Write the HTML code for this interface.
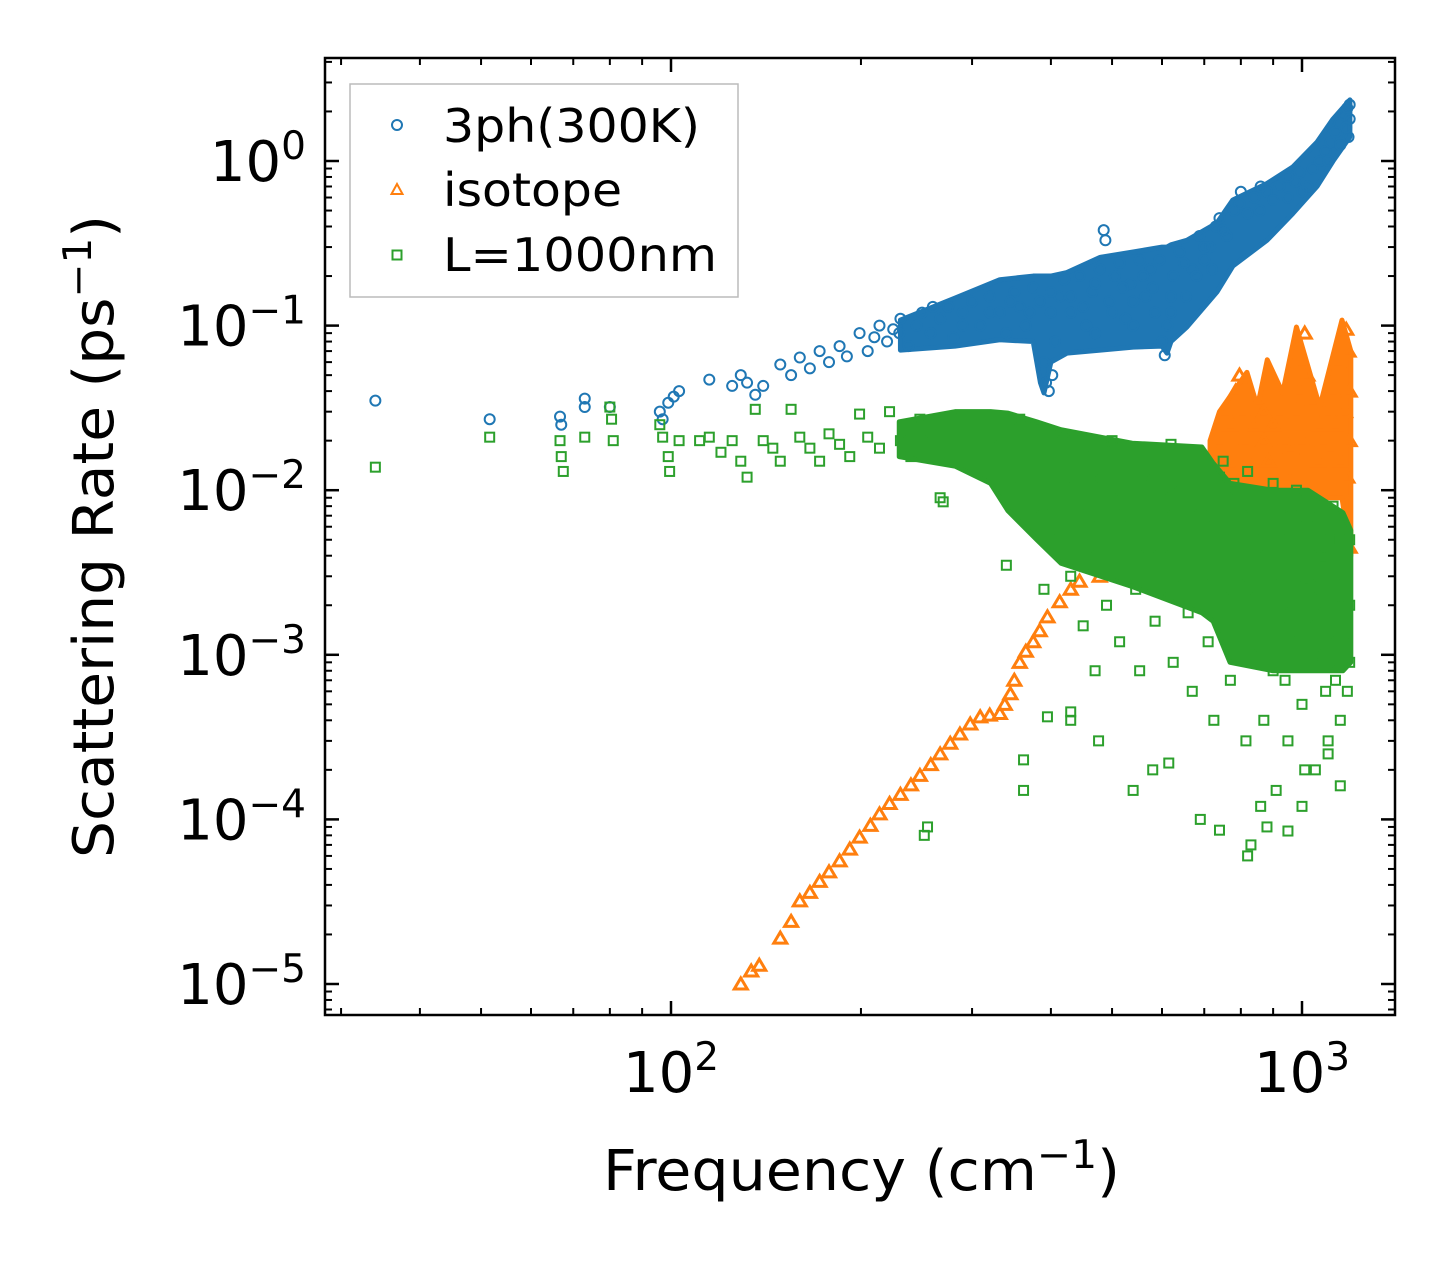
<!DOCTYPE html>
<html><head><meta charset="utf-8"><style>
body{margin:0;background:#fff}
svg{display:block;font-family:"DejaVu Sans","Liberation Sans",sans-serif}
</style></head><body>
<svg id="chart" width="1455" height="1265" viewBox="0 0 1455 1265" xmlns="http://www.w3.org/2000/svg">
<rect width="1455" height="1265" fill="#fff"/>
<g id="marks"></g>
<g id="axes"></g>
<rect x="325" y="58" width="1070" height="957" fill="none" stroke="#000" stroke-width="2.5"/>
<text x="603" y="1190" font-size="56" textLength="517" lengthAdjust="spacingAndGlyphs">Frequency (cm<tspan dy="-22" font-size="39">−1</tspan><tspan dy="22">)</tspan></text>
<text transform="translate(113,858) rotate(-90)" font-size="56" textLength="643" lengthAdjust="spacingAndGlyphs">Scattering Rate (ps<tspan dy="-22" font-size="39">−1</tspan><tspan dy="22">)</tspan></text>
<g>
<rect x="350" y="84" width="388" height="213" fill="#fff" stroke="#bbb" stroke-width="1.5"/>
<circle cx="397" cy="125" r="5" fill="none" stroke="#1f77b4" stroke-width="2"/>
<text x="443" y="142" font-size="46" textLength="257" lengthAdjust="spacingAndGlyphs">3ph(300K)</text>
<polygon points="397,184 402.5,194 391.5,194" fill="none" stroke="#ff7f0e" stroke-width="2"/>
<text x="443" y="206" font-size="46" textLength="179" lengthAdjust="spacingAndGlyphs">isotope</text>
<rect x="392.5" y="250.5" width="9" height="9" fill="none" stroke="#2ca02c" stroke-width="2"/>
<text x="443" y="271" font-size="46" textLength="274" lengthAdjust="spacingAndGlyphs">L=1000nm</text>
</g>
</svg>
<script>
const xTickValues=[100,1000];
const yTickValues=[1,0.1,0.01,0.001,0.0001,0.00001];
const yTickExp=["0","−1","−2","−3","−4","−5"];
const xTickExp=["2","3"];

// dense-cloud envelopes (frequency, lower rate, upper rate)
const blueBandFreq=[231,282,332,375,385,390,400,424,479,540,600,611,620,657,733,777,880,967,1056,1120,1191];
const blueBandLow=[.071,.075,.082,.08,.045,.039,.06,.068,.071,.074,.075,.068,.08,.098,.16,.23,.33,.48,.7,1.0,1.4];
const blueBandHigh=[.108,.147,.19,.2,.2,.2,.2,.21,.26,.28,.3,.3,.31,.33,.42,.58,.73,.92,1.3,1.8,2.35];
const orangeBandFreq=[715,740,818,850,881,932,980,1067,1157,1195];
const orangeBandLow=[.009,.009,.009,.009,.009,.009,.009,.009,.009,.004];
const orangeBandHigh=[.02,.03,.052,.032,.062,.039,.098,.032,.108,.07];
const greenBandFreq=[230,282,321,342,380,415,538,694,723,769,900,1022,1161,1195];
const greenBandLow=[.016,.014,.011,.0075,.005,.0036,.0026,.0018,.0016,.0009,.0008,.0008,.0008,.0009];
const greenBandHigh=[.026,.03,.03,.0294,.026,.0233,.0193,.0183,.0146,.011,.01,.01,.0073,.0057];

const blueFreq=[34,51.6,66.7,67,73,73,80,96,97,99,101,103,115,125,129,132,136,140,149,155,160,166,172,178,185,190,199,205,210,214,220,225,231,238,245,250,258,267,275,280,290,300,309,320,332,340,350,357,365,375,384,390,393,397,402,406,413,420,430,444,455,465,478,485,488,495,505,514,525,535,553,565,575,585,595,600,606,612,625,640,655,670,688,700,715,730,740,760,780,796,820,840,857,880,900,921,950,975,991,1020,1040,1066,1090,1110,1130,1147,1165,1180,1190,1190,1185,1175,230,260,290,320,345,370,400,430,450,470,500,520,540,560,580,620,650,680,700,720,750,800,860,950,1000,1100,1150,400,470,540,620];
const blueRate=[.035,.027,.028,.025,.036,.032,.032,.03,.027,.034,.037,.04,.047,.043,.05,.045,.038,.043,.058,.05,.064,.055,.07,.06,.075,.065,.09,.07,.085,.1,.08,.095,.11,.075,.1,.12,.09,.11,.13,.085,.12,.14,.1,.15,.12,.09,.16,.13,.1,.17,.14,.06,.045,.04,.05,.08,.15,.19,.12,.2,.1,.16,.22,.38,.33,.14,.2,.24,.11,.18,.25,.15,.22,.12,.25,.08,.066,.1,.2,.28,.15,.22,.35,.25,.3,.4,.45,.35,.5,.55,.48,.6,.5,.65,.58,.7,.6,.75,.85,.7,.9,1.0,1.15,1.3,1.5,1.7,1.9,2.1,2.2,1.8,1.4,1.6,.09,.13,.1,.12,.14,.12,.12,.15,.13,.09,.12,.17,.14,.2,.17,.15,.24,.2,.3,.22,.38,.65,.7,.8,.65,1.0,1.25,.16,.18,.1,.12];

const orangeFreq=[129,134,138,149,155,160,166,172,178,185,192,199,207,214,222,231,240,248,258,267,277,287,298,309,320,332,338,345,350,357,365,375,384,395,413,430,444,478,520,640,660,680,700,715,725,740,755,770,785,796,805,815,830,845,857,870,885,900,921,940,960,980,991,1000,1010,1020,1040,1066,1080,1100,1120,1140,1160,1175,1185,1190,1190,1190,1180,1150,1110,1060,950,870,760,1000,1130,1170];
const orangeRate=[1e-5,1.2e-5,1.3e-5,1.9e-5,2.4e-5,3.2e-5,3.6e-5,4.2e-5,4.8e-5,5.6e-5,6.6e-5,7.8e-5,9.2e-5,1.08e-4,1.25e-4,1.42e-4,1.62e-4,1.85e-4,2.15e-4,2.5e-4,2.9e-4,3.3e-4,3.8e-4,4.2e-4,4.3e-4,4.4e-4,5e-4,5.8e-4,7e-4,9e-4,1.05e-3,1.2e-3,1.4e-3,1.7e-3,2.1e-3,2.5e-3,2.8e-3,3e-3,3.3e-3,3.8e-3,5e-3,7e-3,9e-3,.013,.017,.02,.03,.025,.04,.05,.03,.02,.015,.025,.035,.02,.015,.025,.03,.02,.018,.03,.04,.06,.09,.05,.035,.025,.02,.03,.04,.06,.08,.095,.07,.04,.02,.0045,.012,.015,.018,.015,.012,.03,.015,.02,.025,.03];

const greenFreq=[34,51.6,66.7,67,67.5,73,80,80.5,81,96,97,99,99.5,103,111,115,120,125,129,132,136,140,145,149,155,160,166,172,178,185,192,199,205,214,222,231,240,248,258,267,270,277,287,298,309,320,332,340,345,357,365,375,384,390,395,400,405,413,420,430,440,445,450,458,465,470,478,485,490,500,510,514,525,535,545,553,560,575,585,595,605,615,625,640,650,660,670,688,700,710,725,740,750,760,770,785,796,805,815,830,845,857,870,880,890,900,910,921,930,940,950,960,975,991,1000,1010,1020,1035,1050,1066,1080,1090,1100,1110,1125,1140,1150,1160,1170,1180,1190,1190,252,255,362,362,395,430,430,476,540,580,615,690,740,820,830,860,880,950,1000,1050,1100,1150,420,450,480,500,520,550,580,600,620,650,680,700,720,750,780,800,820,850,870,900,930,950,980,1000,1030,1060,1090,1120,1150,1180,1190,1000,950,900,850,800,750,700,650,600,550,1050,1100,1150,1180,1130,1080,1020];
const greenRate=[.0138,.021,.02,.016,.013,.021,.032,.027,.02,.025,.021,.016,.013,.02,.02,.021,.017,.02,.015,.012,.031,.02,.018,.015,.031,.021,.018,.015,.022,.019,.016,.029,.021,.018,.03,.02,.016,.027,.02,.009,.0085,.022,.028,.018,.026,.015,.021,.0035,.012,.027,.018,.007,.024,.0025,.014,.008,.02,.005,.012,.003,.018,.008,.0015,.004,.012,.0008,.006,.018,.002,.01,.0035,.0012,.015,.006,.0025,.0008,.012,.004,.0016,.015,.007,.0025,.0009,.011,.005,.0018,.0006,.008,.003,.0012,.0004,.012,.005,.002,.0007,.009,.003,.0013,.0003,.007,.0025,.001,.0004,.006,.002,.0008,.00015,.005,.0018,.0007,.0003,.008,.003,.0012,.0005,.0002,.006,.0025,.001,.004,.0015,.0006,.00025,.005,.002,.0009,.0004,.003,.0012,.0006,.002,.0009,8e-5,9e-5,1.5e-4,2.3e-4,4.2e-4,4.5e-4,4e-4,3e-4,1.5e-4,2e-4,2.2e-4,1e-4,8.6e-5,6e-5,7e-5,1.2e-4,9e-5,8.5e-5,1.2e-4,2e-4,3e-4,1.6e-4,.02,.016,.013,.02,.008,.018,.013,.009,.019,.013,.016,.01,.007,.015,.011,.007,.013,.009,.005,.011,.007,.004,.01,.007,.003,.007,.004,.008,.005,.004,.005,.0025,.0015,.003,.004,.004,.0025,.006,.003,.004,.0045,.0018,.0012,.0022,.0015,.0007,.0009,.0015];

const X0=671,XD=631,Y0=161,YD=164.6;
function xs(f){return X0+(Math.log10(f)-2)*XD;}
function ys(r){return Y0-Math.log10(r)*YD;}
const NS="http://www.w3.org/2000/svg";
const marks=document.getElementById('marks');
const axes=document.getElementById('axes');
function mk(tag,attrs,parent){const e=document.createElementNS(NS,tag);for(const k in attrs)e.setAttribute(k,attrs[k]);parent.appendChild(e);return e;}
function bandPts(fr,lo,hi){const a=fr.map((f,i)=>xs(f)+','+ys(hi[i]));const b=fr.map((f,i)=>xs(f)+','+ys(lo[i])).reverse();return a.concat(b).join(' ');}

const bB=mk('polygon',{points:bandPts(blueBandFreq,blueBandLow,blueBandHigh),fill:'#1f77b4',stroke:'#1f77b4','stroke-width':5,'stroke-linejoin':'round'},marks);


const gB=mk('g',{},marks);


blueFreq.forEach((f,i)=>{const c=mk('circle',{cx:xs(f),cy:ys(blueRate[i]),r:5,fill:'none',stroke:'#1f77b4','stroke-width':2},gB);

});
const bO=mk('polygon',{points:bandPts(orangeBandFreq,orangeBandLow,orangeBandHigh),fill:'#ff7f0e',stroke:'#ff7f0e','stroke-width':5,'stroke-linejoin':'round'},marks);


const gO=mk('g',{},marks);


orangeFreq.forEach((f,i)=>{const x=xs(f),y=ys(orangeRate[i]);const p=mk('polygon',{points:`${x},${y-6} ${x+6.5},${y+5} ${x-6.5},${y+5}`,fill:'none',stroke:'#ff7f0e','stroke-width':3},gO);

});
const bG=mk('polygon',{points:bandPts(greenBandFreq,greenBandLow,greenBandHigh),fill:'#2ca02c',stroke:'#2ca02c','stroke-width':5,'stroke-linejoin':'round'},marks);


const gG=mk('g',{},marks);


greenFreq.forEach((f,i)=>{const x=xs(f),y=ys(greenRate[i]);const s=mk('rect',{x:x-4.5,y:y-4.5,width:9,height:9,fill:'none',stroke:'#2ca02c','stroke-width':2},gG);

});

const L=325,R=1395,T=58,B=1015;
function tick(x1,y1,x2,y2,w){const l=mk('line',{x1,y1,x2,y2,stroke:'#000','stroke-width':w},axes);

}
for(let d=1;d<=3;d++){for(let m=1;m<=9;m++){const v=m*Math.pow(10,d);const x=xs(v);if(x<L||x>R)continue;const len=m===1?14:7,w=m===1?2.5:2;tick(x,B,x,B-len,w);tick(x,T,x,T+len,w);}}
for(let d=-6;d<=0;d++){for(let m=1;m<=9;m++){const v=m*Math.pow(10,d);const y=ys(v);if(y<T||y>B)continue;const len=m===1?14:7,w=m===1?2.5:2;tick(L,y,L+len,y,w);tick(R,y,R-len,y,w);}}
xTickValues.forEach((v,i)=>{const t=mk('text',{x:xs(v),y:1092,'font-size':56,'text-anchor':'middle'},axes);


t.innerHTML=`10<tspan dy="-22" font-size="39">${xTickExp[i]}</tspan>`;});
yTickValues.forEach((v,i)=>{const t=mk('text',{x:306,y:ys(v)+20,'font-size':56,'text-anchor':'end'},axes);


t.innerHTML=`10<tspan dy="-22" font-size="39">${yTickExp[i]}</tspan>`;});
</script>
</body></html>
